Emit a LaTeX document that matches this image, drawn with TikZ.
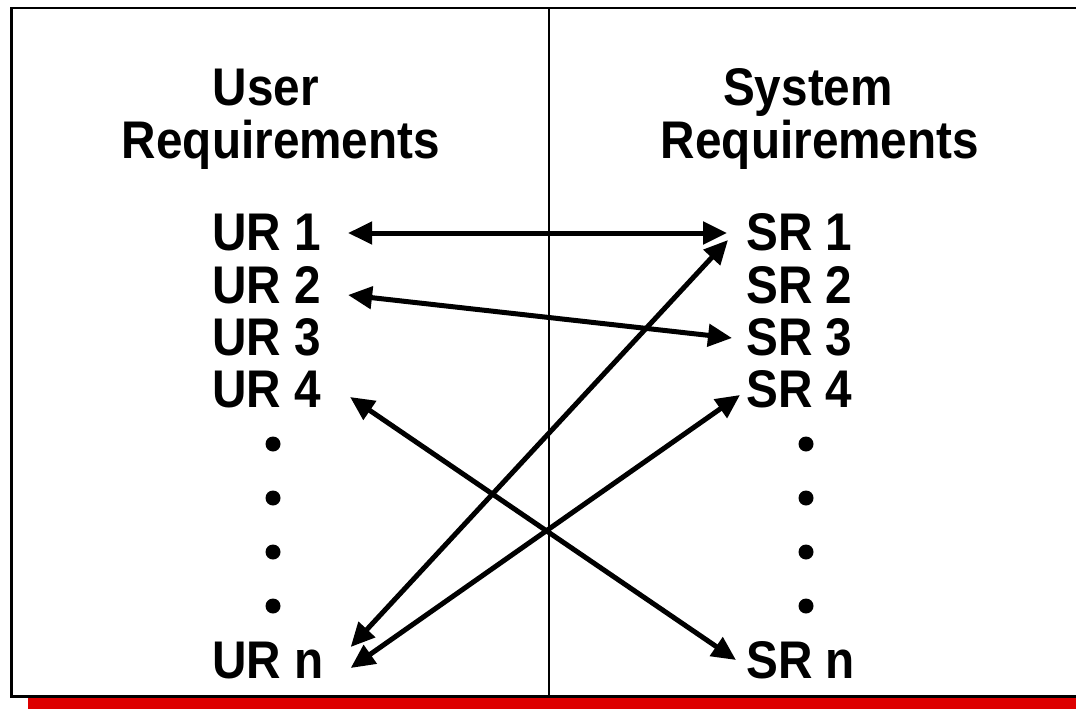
\documentclass[tikz,border=0pt]{standalone}
\usepackage{fontspec}
\newfontfamily\labfont[FakeStretch=0.9]{Liberation Sans}
\usetikzlibrary{arrows.meta}
\definecolor{barred}{HTML}{DD0000}
\begin{document}
\begin{tikzpicture}[x=1pt,y=-1pt,
  lab/.style={inner sep=0pt,font=\labfont\bfseries\fontsize{53}{53}\selectfont},
  dotn/.style={circle,fill=black,inner sep=0pt,minimum size=15pt},
  arr/.style={line width=5pt,{Triangle[length=24pt,width=22pt]}-{Triangle[length=24pt,width=22pt]}},
  frame/.style={line width=2.2pt,draw=black}]
\useasboundingbox (0,0) rectangle (1076,709);
% frame
\fill[barred] (28,697.5) rectangle (1076,709);
\draw[frame] (1076,8) -- (11.5,8) -- (11.5,696.5) -- (1076,696.5);
\draw[line width=1.6pt] (549,8) -- (549,697);
% headings
\node[lab,anchor=base] (uh1) at (266,105) {User};
\node[lab,anchor=base] (uh2) at (281,158) {Requirements};
\node[lab,anchor=base] (sh1) at (808,105) {System};
\node[lab,anchor=base] (sh2) at (820,158) {Requirements};
% user requirements
\node[lab,anchor=base west] (ur1) at (212,250) {UR 1};
\node[lab,anchor=base west] (ur2) at (212,303) {UR 2};
\node[lab,anchor=base west] (ur3) at (212,355) {UR 3};
\node[lab,anchor=base west] (ur4) at (212,407) {UR 4};
\node[lab,anchor=base west] (urn) at (212,678) {UR n};
% system requirements
\node[lab,anchor=base west] (sr1) at (746,250) {SR 1};
\node[lab,anchor=base west] (sr2) at (746,303) {SR 2};
\node[lab,anchor=base west] (sr3) at (746,355) {SR 3};
\node[lab,anchor=base west] (sr4) at (746,407) {SR 4};
\node[lab,anchor=base west] (srn) at (746,678) {SR n};
% dots
\node[dotn] (ud1) at (273,444) {};
\node[dotn] (ud2) at (273,498) {};
\node[dotn] (ud3) at (273,552) {};
\node[dotn] (ud4) at (273,606) {};
\node[dotn] (sd1) at (806,444) {};
\node[dotn] (sd2) at (806,498) {};
\node[dotn] (sd3) at (806,552) {};
\node[dotn] (sd4) at (806,606) {};
% arrows
\draw[arr] ([shift={(27,-17)}]ur1.base east) -- ([shift={(-19,-17)}]sr1.base west);
\draw[arr] ([shift={(27,-8)}]ur2.base east) -- ([shift={(-14,-17)}]sr3.base west);
\draw[arr] ([shift={(27,-31)}]urn.base east) -- ([shift={(-18,-10)}]sr1.base west);
\draw[arr] ([shift={(27,-10)}]urn.base east) -- ([shift={(-6,-12)}]sr4.base west);
\draw[arr] ([shift={(29,-10)}]ur4.base east) -- ([shift={(-10,-18)}]srn.base west);
\end{tikzpicture}
\end{document}
